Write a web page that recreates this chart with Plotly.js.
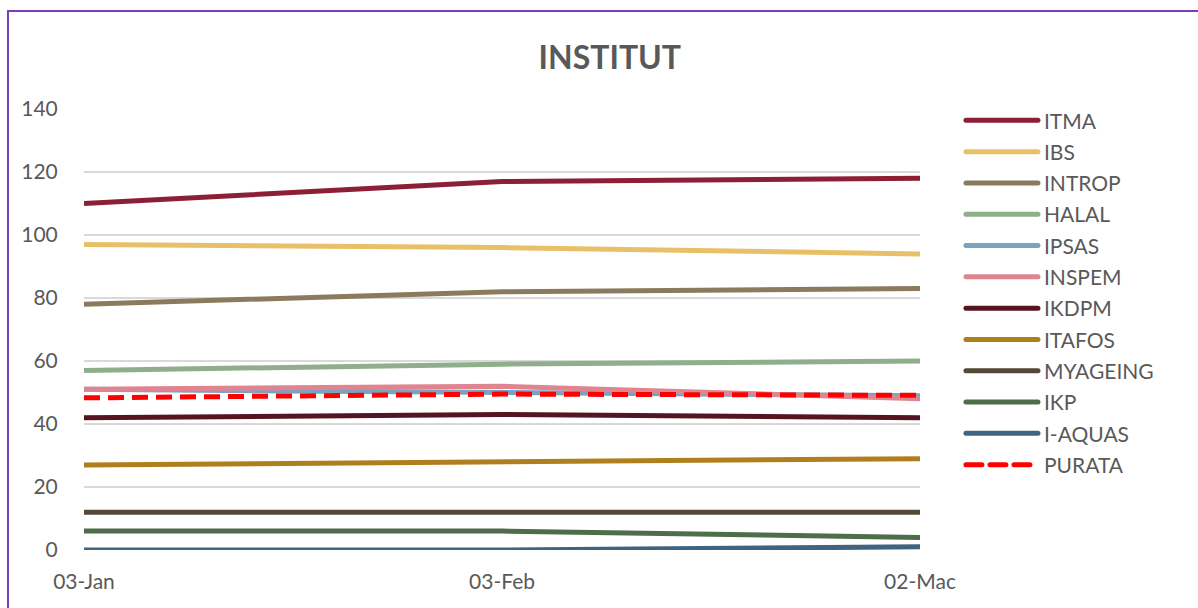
<!DOCTYPE html>
<html>
<head>
<meta charset="utf-8">
<script src="https://cdn.plot.ly/plotly-3.0.1.min.js"></script>
<style>
  html, body { margin: 0; padding: 0; background: #ffffff; }
  #wrap { position: relative; width: 1198px; height: 608px; overflow: hidden; }
  #chart { position: absolute; left: 0; top: 0; width: 1198px; height: 608px; }
  #frame { position: absolute; left: 7px; top: 10px; width: 1300px; height: 700px;
           border-left: 2px solid #7B3FB5; border-top: 2px solid #7B3FB5; pointer-events: none; }
</style>
</head>
<body>
<div id="wrap">
  <div id="chart"></div>
  <div id="frame"></div>
</div>
<script>
// Categories (x axis)
const dates = ['03-Jan', '03-Feb', '02-Mac'];

// Series names (legend order)
const seriesNames = ['ITMA', 'IBS', 'INTROP', 'HALAL', 'IPSAS', 'INSPEM', 'IKDPM', 'ITAFOS', 'MYAGEING', 'IKP', 'I-AQUAS', 'PURATA'];

// Series values
const ITMA     = [110, 117, 118];
const IBS      = [97, 96, 94];
const INTROP   = [78, 82, 83];
const HALAL    = [57, 59, 60];
const IPSAS    = [51, 50, 49];
const INSPEM   = [51, 52, 48];
const IKDPM    = [42, 43, 42];
const ITAFOS   = [27, 28, 29];
const MYAGEING = [12, 12, 12];
const IKP      = [6, 6, 4];
const IAQUAS   = [0, 0, 1];
const PURATA   = [48.3, 49.5, 49.1];

const seriesValues = [ITMA, IBS, INTROP, HALAL, IPSAS, INSPEM, IKDPM, ITAFOS, MYAGEING, IKP, IAQUAS, PURATA];

const colors = ['#8C1F35', '#E8C068', '#8B7B5E', '#8FAE8B', '#7AA3BF', '#E0858F', '#561421', '#AF7F1E', '#544837', '#4E6D4A', '#3E6480', '#FF0000'];

const traces = seriesNames.map((name, i) => ({
  type: 'scatter',
  mode: 'lines',
  name: name,
  x: dates,
  y: seriesValues[i],
  legendgroup: 'g' + i,
  cliponaxis: false,
  hoverinfo: 'skip',
  line: {
    color: colors[i],
    width: 5,
    dash: name === 'PURATA' ? '16px,8px' : 'solid'
  }
}));

const tickFont = { family: 'Lato, "Open Sans", sans-serif', size: 21, color: '#595959' };

const layout = {
  width: 1198,
  height: 608,
  margin: { l: 84, r: 278, t: 109, b: 58, pad: 0 },
  paper_bgcolor: '#ffffff',
  plot_bgcolor: '#ffffff',
  showlegend: true,
  title: {
    text: '<b>INSTITUT</b>',
    font: { family: 'Lato, "Open Sans", sans-serif', size: 32, color: '#595959' },
    x: 0.509, xref: 'container', xanchor: 'center',
    y: 0.905, yref: 'container', yanchor: 'middle'
  },
  xaxis: {
    type: 'category',
    range: [0, 2],
    showgrid: false,
    zeroline: false,
    showline: false,
    ticks: 'outside',
    ticklen: 13,
    tickcolor: 'rgba(0,0,0,0)',
    tickfont: tickFont,
    fixedrange: true
  },
  yaxis: {
    range: [0, 140],
    dtick: 20,
    tick0: 0,
    showgrid: true,
    gridcolor: '#D9D9D9',
    gridwidth: 1.5,
    zeroline: false,
    showline: false,
    ticks: 'outside',
    ticklen: 21,
    tickcolor: 'rgba(0,0,0,0)',
    tickfont: tickFont,
    fixedrange: true
  },
  legend: {
    x: 1.049, xanchor: 'left',
    y: 1.02, yanchor: 'top',
    traceorder: 'grouped',
    tracegroupgap: 1,
    itemwidth: 73,
    maxheight: 560,
    font: { family: 'Lato, "Open Sans", sans-serif', size: 21, color: '#595959' },
    bgcolor: 'rgba(0,0,0,0)'
  }
};

Plotly.newPlot('chart', traces, layout, { displayModeBar: false, staticPlot: true }).then(gd => {
  // stretch legend line samples to match the reference's longer keys
  gd.querySelectorAll('.legend .legendlines path').forEach(p => {
    p.setAttribute('d', 'M5,0h72');
    p.style.strokeLinecap = 'round';
  });
});
</script>
</body>
</html>
